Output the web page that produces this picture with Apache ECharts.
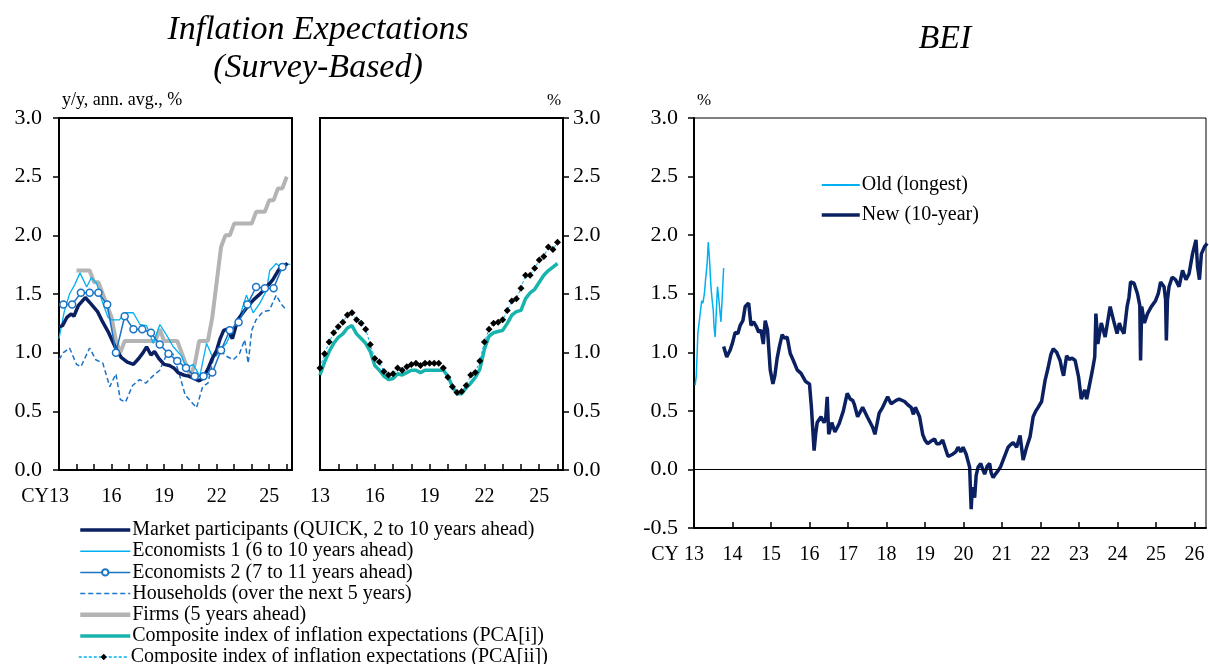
<!DOCTYPE html>
<html><head><meta charset="utf-8">
<script src="https://cdn.jsdelivr.net/npm/echarts@6/dist/echarts.min.js"></script>
<style>html,body{margin:0;padding:0;background:#fff;overflow:hidden}#c{width:1209px;height:674px}</style>
</head><body><div id="c"></div>
<script>
// ---------- DATA ----------
const yTicks = [0.0, 0.5, 1.0, 1.5, 2.0, 2.5, 3.0];
const beiTicks = [-0.5, 0.0, 0.5, 1.0, 1.5, 2.0, 2.5, 3.0];

const marketParticipants = [[2013.0,1.22],[2013.2,1.23],[2013.45,1.3],[2013.7,1.33],[2013.85,1.31],[2014.1,1.4],[2014.5,1.47],[2014.8,1.42],[2015.2,1.35],[2015.5,1.26],[2015.8,1.18],[2016.2,1.05],[2016.55,0.96],[2016.9,0.92],[2017.25,0.9],[2017.55,0.95],[2017.8,1.0],[2018.0,1.05],[2018.25,0.98],[2018.45,1.01],[2018.7,0.95],[2019.0,0.9],[2019.3,0.89],[2019.55,0.87],[2019.8,0.83],[2020.1,0.81],[2020.4,0.8],[2020.7,0.78],[2021.0,0.76],[2021.2,0.78],[2021.5,0.86],[2021.75,0.95],[2022.0,1.02],[2022.2,1.12],[2022.4,1.19],[2022.6,1.2],[2022.9,1.12],[2023.2,1.28],[2023.5,1.34],[2023.8,1.4],[2024.1,1.45],[2024.4,1.49],[2024.8,1.55],[2025.2,1.62],[2025.6,1.72],[2026.05,1.76]];

const economists1 = [[2013.0,1.12],[2013.3,1.35],[2013.6,1.5],[2013.9,1.58],[2014.2,1.68],[2014.58,1.56],[2014.85,1.64],[2015.15,1.59],[2015.5,1.42],[2015.8,1.3],[2016.0,1.28],[2016.45,1.28],[2016.76,1.34],[2017.24,1.34],[2017.62,1.24],[2018.0,1.23],[2018.38,1.08],[2018.76,1.24],[2019.14,1.15],[2019.52,1.05],[2020.0,0.97],[2020.28,0.87],[2020.66,0.9],[2021.04,0.8],[2021.42,1.08],[2021.8,0.95],[2022.18,1.02],[2022.56,1.08],[2022.94,1.21],[2023.32,1.31],[2023.7,1.49],[2024.08,1.34],[2024.46,1.42],[2024.84,1.53],[2025.03,1.7],[2025.4,1.76],[2025.7,1.72],[2026.0,1.76],[2026.2,1.75]];

const economists2 = [[2013.25,1.41],[2013.75,1.41],[2014.25,1.51],[2014.75,1.51],[2015.25,1.51],[2015.75,1.41],[2016.25,1.0],[2016.75,1.31],[2017.25,1.2],[2017.75,1.2],[2018.25,1.17],[2018.75,1.07],[2019.25,0.99],[2019.75,0.93],[2020.25,0.87],[2020.75,0.8],[2021.25,0.8],[2021.75,0.83],[2022.25,1.02],[2022.75,1.19],[2023.25,1.26],[2023.75,1.41],[2024.25,1.56],[2024.75,1.55],[2025.25,1.55],[2025.75,1.73]];

const households = [[2013.0,0.94],[2013.25,1.0],[2013.6,1.04],[2014.0,0.9],[2014.25,0.88],[2014.75,1.04],[2015.1,0.94],[2015.5,0.91],[2015.9,0.71],[2016.25,0.82],[2016.5,0.6],[2016.8,0.58],[2017.2,0.72],[2017.6,0.77],[2017.95,0.74],[2018.35,0.8],[2018.75,0.85],[2019.1,0.97],[2019.5,0.99],[2019.9,0.8],[2020.2,0.64],[2020.55,0.58],[2020.85,0.53],[2021.2,0.71],[2021.5,0.74],[2021.8,0.94],[2022.2,1.02],[2022.55,0.97],[2022.95,0.94],[2023.3,0.99],[2023.6,1.11],[2023.8,0.91],[2024.0,1.19],[2024.25,1.28],[2024.65,1.35],[2025.0,1.36],[2025.4,1.49],[2025.7,1.41],[2026.0,1.36]];

const firms = [[2014.0,1.7],[2014.25,1.7],[2014.5,1.7],[2014.75,1.7],[2015.0,1.6],[2015.25,1.6],[2015.5,1.5],[2015.75,1.4],[2016.0,1.3],[2016.25,1.1],[2016.5,1.0],[2016.75,1.1],[2017.0,1.1],[2017.25,1.1],[2017.5,1.1],[2017.75,1.1],[2018.0,1.1],[2018.25,1.1],[2018.5,1.1],[2018.75,1.2],[2019.0,1.1],[2019.25,1.1],[2019.5,1.1],[2019.75,1.1],[2020.0,1.0],[2020.25,0.9],[2020.5,0.8],[2020.75,0.9],[2021.0,1.1],[2021.25,1.1],[2021.5,1.1],[2021.75,1.3],[2022.0,1.6],[2022.25,1.9],[2022.5,2.0],[2022.75,2.0],[2023.0,2.1],[2023.25,2.1],[2023.5,2.1],[2023.75,2.1],[2024.0,2.1],[2024.25,2.2],[2024.5,2.2],[2024.75,2.2],[2025.0,2.3],[2025.25,2.3],[2025.5,2.4],[2025.75,2.4],[2026.0,2.5]];

const quarters = [2013.0,2013.25,2013.5,2013.75,2014.0,2014.25,2014.5,2014.75,2015.0,2015.25,2015.5,2015.75,2016.0,2016.25,2016.5,2016.75,2017.0,2017.25,2017.5,2017.75,2018.0,2018.25,2018.5,2018.75,2019.0,2019.25,2019.5,2019.75,2020.0,2020.25,2020.5,2020.75,2021.0,2021.25,2021.5,2021.75,2022.0,2022.25,2022.5,2022.75,2023.0,2023.25,2023.5,2023.75,2024.0,2024.25,2024.5,2024.75,2025.0,2025.25,2025.5,2025.75,2026.0];
const pca1 = [0.81,0.92,1.01,1.08,1.13,1.16,1.21,1.23,1.16,1.12,1.08,1.01,0.89,0.85,0.80,0.77,0.78,0.82,0.81,0.83,0.85,0.85,0.83,0.85,0.85,0.85,0.85,0.85,0.80,0.71,0.65,0.65,0.70,0.74,0.79,0.86,1.03,1.14,1.17,1.18,1.19,1.25,1.32,1.35,1.36,1.46,1.51,1.54,1.60,1.66,1.70,1.73,1.76];
const pca2 = [0.87,0.99,1.09,1.17,1.22,1.26,1.32,1.34,1.28,1.25,1.20,1.07,0.95,0.92,0.84,0.81,0.82,0.87,0.85,0.88,0.90,0.91,0.89,0.91,0.91,0.91,0.91,0.87,0.79,0.71,0.66,0.67,0.72,0.81,0.83,0.93,1.09,1.20,1.25,1.26,1.28,1.36,1.44,1.46,1.55,1.66,1.66,1.72,1.79,1.82,1.90,1.88,1.94];

const beiOld = [[2013.03,0.72],[2013.06,0.8],[2013.1,1.16],[2013.15,1.3],[2013.2,1.44],[2013.23,1.42],[2013.27,1.5],[2013.3,1.62],[2013.34,1.75],[2013.37,1.94],[2013.4,1.81],[2013.44,1.56],[2013.47,1.45],[2013.5,1.36],[2013.52,1.22],[2013.55,1.13],[2013.58,1.35],[2013.61,1.56],[2013.64,1.47],[2013.67,1.36],[2013.7,1.26],[2013.73,1.45],[2013.77,1.72]];

const beiNew = [[2013.77,1.05],[2013.85,0.96],[2013.94,1.02],[2014.0,1.08],[2014.07,1.17],[2014.14,1.16],[2014.2,1.23],[2014.27,1.27],[2014.33,1.39],[2014.42,1.42],[2014.48,1.23],[2014.55,1.26],[2014.62,1.22],[2014.68,1.17],[2014.74,1.19],[2014.8,1.07],[2014.85,1.27],[2014.91,1.19],[2014.98,0.85],[2015.05,0.73],[2015.1,0.8],[2015.16,0.95],[2015.22,1.05],[2015.29,1.15],[2015.35,1.12],[2015.42,1.13],[2015.5,0.99],[2015.58,0.93],[2015.68,0.85],[2015.78,0.82],[2015.85,0.78],[2015.9,0.75],[2016.0,0.73],[2016.05,0.53],[2016.12,0.16],[2016.16,0.3],[2016.2,0.4],[2016.3,0.45],[2016.38,0.4],[2016.42,0.43],[2016.46,0.62],[2016.5,0.3],[2016.58,0.4],[2016.66,0.32],[2016.77,0.39],[2016.88,0.5],[2016.98,0.65],[2017.06,0.6],[2017.12,0.59],[2017.16,0.56],[2017.25,0.45],[2017.38,0.53],[2017.5,0.45],[2017.64,0.36],[2017.7,0.3],[2017.81,0.48],[2017.9,0.53],[2018.03,0.62],[2018.12,0.56],[2018.25,0.59],[2018.33,0.6],[2018.47,0.58],[2018.56,0.55],[2018.64,0.53],[2018.7,0.47],[2018.75,0.53],[2018.86,0.45],[2018.94,0.3],[2019.0,0.25],[2019.07,0.22],[2019.15,0.24],[2019.25,0.26],[2019.3,0.22],[2019.38,0.22],[2019.46,0.25],[2019.51,0.24],[2019.55,0.16],[2019.6,0.11],[2019.64,0.11],[2019.72,0.13],[2019.8,0.15],[2019.86,0.19],[2019.93,0.15],[2019.99,0.19],[2020.07,0.13],[2020.16,0.02],[2020.2,-0.34],[2020.23,-0.15],[2020.29,-0.24],[2020.33,-0.05],[2020.38,0.02],[2020.45,0.05],[2020.5,0.0],[2020.55,-0.04],[2020.62,0.03],[2020.68,0.05],[2020.72,-0.03],[2020.77,-0.07],[2020.83,-0.04],[2020.9,-0.01],[2020.96,0.02],[2021.03,0.08],[2021.1,0.14],[2021.16,0.19],[2021.22,0.21],[2021.29,0.23],[2021.38,0.19],[2021.47,0.29],[2021.55,0.08],[2021.6,0.14],[2021.64,0.19],[2021.73,0.28],[2021.81,0.45],[2021.88,0.5],[2021.94,0.53],[2022.03,0.58],[2022.12,0.76],[2022.2,0.87],[2022.27,0.98],[2022.33,1.03],[2022.42,1.0],[2022.51,0.93],[2022.56,0.85],[2022.6,0.8],[2022.68,0.97],[2022.75,0.94],[2022.82,0.95],[2022.9,0.93],[2022.99,0.79],[2023.06,0.6],[2023.15,0.68],[2023.2,0.6],[2023.25,0.59],[2023.34,0.83],[2023.41,0.96],[2023.44,1.33],[2023.49,1.07],[2023.53,1.15],[2023.58,1.25],[2023.68,1.13],[2023.74,1.25],[2023.81,1.39],[2023.9,1.27],[2023.99,1.16],[2024.05,1.25],[2024.1,1.2],[2024.17,1.16],[2024.25,1.39],[2024.3,1.47],[2024.34,1.6],[2024.43,1.59],[2024.52,1.5],[2024.58,1.4],[2024.6,0.93],[2024.63,1.39],[2024.7,1.25],[2024.78,1.33],[2024.88,1.39],[2024.99,1.44],[2025.06,1.5],[2025.12,1.6],[2025.21,1.56],[2025.25,1.45],[2025.27,1.1],[2025.3,1.45],[2025.34,1.56],[2025.42,1.64],[2025.51,1.62],[2025.6,1.56],[2025.69,1.7],[2025.78,1.62],[2025.86,1.67],[2025.95,1.84],[2026.04,1.96],[2026.08,1.73],[2026.13,1.62],[2026.18,1.84],[2026.26,1.9],[2026.33,1.93]];

// ---------- CHART ----------
const FONT = '"Liberation Serif","Times New Roman",serif';
const chart = echarts.init(document.getElementById('c'), null, {renderer: 'canvas'});
const C_NAVY = '#0b2060', C_LB = '#00b0f0', C_MB = '#1a73c6', C_GRAY = '#b4b4b4', C_TEAL = '#17b3ad';
const XMARGIN = 17;

function xAxisFor(gi, every) {
  return {
    type: 'value', gridIndex: gi, min: 2013, max: 2026.3, interval: 1,
    axisLine: {show: true, onZero: false, lineStyle: {color: '#000', width: 2}},
    axisTick: {show: true, inside: true, length: 6, lineStyle: {color: '#000', width: 1.5}},
    splitLine: {show: false},
    axisLabel: {
      show: true, margin: XMARGIN, fontFamily: FONT, fontSize: 20, color: '#000',
      showMaxLabel: false, showMinLabel: true, hideOverlap: false,
      formatter: function (v) {
        const y = Math.round(v);
        if (Math.abs(v - y) > 1e-6) return '';
        if ((y - 2013) % every !== 0) return '';
        return String(y % 100);
      }
    }
  };
}
function yAxisFor(gi, pos, min, margin) {
  return {
    type: 'value', gridIndex: gi, position: pos, min: min, max: 3, interval: 0.5,
    axisLine: {show: true, onZero: false, lineStyle: {color: '#000', width: 2}},
    axisTick: {show: true, inside: false, length: 6, lineStyle: {color: '#000', width: 1.5}},
    splitLine: {show: false},
    axisLabel: {show: true, margin: margin, fontFamily: FONT, fontSize: 22, color: '#000',
      formatter: v => v.toFixed(1)}
  };
}
const noSym = {opacity: 0};
const legendText = {fontFamily: FONT, fontSize: 20, color: '#000', padding: [0, 0, 0, -3]};

const option = {
  animation: false,
  backgroundColor: '#fff',
  grid: [
    {left: 59, top: 118, width: 233, height: 352, show: true, borderColor: '#000', borderWidth: 2, backgroundColor: 'transparent'},
    {left: 320, top: 118, width: 243, height: 352, show: true, borderColor: '#000', borderWidth: 2, backgroundColor: 'transparent'},
    {left: 694, top: 118, width: 512, height: 410, show: true, borderColor: '#000', borderWidth: 1, backgroundColor: 'transparent'}
  ],
  xAxis: [xAxisFor(0, 3), xAxisFor(1, 3), xAxisFor(2, 1)],
  yAxis: [yAxisFor(0, 'left', 0, 17), yAxisFor(1, 'right', 0, 10), yAxisFor(2, 'left', -0.5, 16)],
  graphic: [
    {type: 'text', x: 318, y: 13, style: {text: 'Inflation Expectations', font: 'italic 34px ' + FONT, fill: '#000', textAlign: 'center', textVerticalAlign: 'top'}},
    {type: 'text', x: 318, y: 51, style: {text: '(Survey-Based)', font: 'italic 34px ' + FONT, fill: '#000', textAlign: 'center', textVerticalAlign: 'top'}},
    {type: 'text', x: 945, y: 22, style: {text: 'BEI', font: 'italic 34px ' + FONT, fill: '#000', textAlign: 'center', textVerticalAlign: 'top'}},
    {type: 'text', x: 62, y: 91, style: {text: 'y/y, ann. avg., %', font: '18px ' + FONT, fill: '#000', textVerticalAlign: 'top'}},
    {type: 'text', x: 547, y: 92, style: {text: '%', font: '17px ' + FONT, fill: '#000', textVerticalAlign: 'top'}},
    {type: 'text', x: 697, y: 92, style: {text: '%', font: '17px ' + FONT, fill: '#000', textVerticalAlign: 'top'}},
    {type: 'text', x: 49, y: 470 + XMARGIN, style: {text: 'CY', font: '20px ' + FONT, fill: '#000', textAlign: 'right', textVerticalAlign: 'top'}},
    {type: 'text', x: 679, y: 528 + XMARGIN, style: {text: 'CY', font: '20px ' + FONT, fill: '#000', textAlign: 'right', textVerticalAlign: 'top'}}
  ],
  legend: [
    {
      orient: 'vertical', left: 78, top: 520, padding: 0, itemWidth: 50, itemHeight: 8, itemGap: 1.2,
      textStyle: legendText,
      data: [
        {name: 'Market participants (QUICK, 2 to 10 years ahead)', itemStyle: noSym, lineStyle: {width: 3.5}},
        {name: 'Economists 1 (6 to 10 years ahead)', itemStyle: noSym, lineStyle: {width: 1.5}},
        {name: 'Economists 2 (7 to 11 years ahead)', lineStyle: {width: 1.5}},
        {name: 'Households (over the next 5 years)', itemStyle: noSym, lineStyle: {width: 1.5}},
        {name: 'Firms (5 years ahead)', itemStyle: noSym, lineStyle: {width: 4.5}},
        {name: 'Composite index of inflation expectations (PCA[i])', itemStyle: noSym, lineStyle: {width: 3.5}}
      ]
    },
    {
      orient: 'vertical', left: 78, top: 647, padding: 0, itemWidth: 50, itemHeight: 8, itemGap: 1.2,
      textStyle: legendText,
      data: [
        {name: 'Composite index of inflation expectations (PCA[ii])', lineStyle: {width: 1.5}}
      ]
    },
    {
      orient: 'vertical', left: 820, top: 175, padding: 0, itemWidth: 38, itemHeight: 8, itemGap: 10,
      textStyle: legendText,
      data: [
        {name: 'Old (longest)', itemStyle: noSym, lineStyle: {width: 2}},
        {name: 'New (10-year)', itemStyle: noSym, lineStyle: {width: 3.5}}
      ]
    }
  ],
  series: [
    {name: 'Firms (5 years ahead)', type: 'line', xAxisIndex: 0, yAxisIndex: 0, data: firms, symbol: 'none',
      lineStyle: {color: C_GRAY, width: 4}, itemStyle: {color: C_GRAY}},
    {name: 'Households (over the next 5 years)', type: 'line', xAxisIndex: 0, yAxisIndex: 0, data: households, symbol: 'none',
      lineStyle: {color: C_MB, width: 1.5, type: [5, 3]}, itemStyle: {color: C_MB}},
    {name: 'Economists 1 (6 to 10 years ahead)', type: 'line', xAxisIndex: 0, yAxisIndex: 0, data: economists1, symbol: 'none',
      lineStyle: {color: C_LB, width: 1.3}, itemStyle: {color: C_LB}},
    {name: 'Market participants (QUICK, 2 to 10 years ahead)', type: 'line', xAxisIndex: 0, yAxisIndex: 0, data: marketParticipants, symbol: 'none',
      lineStyle: {color: C_NAVY, width: 3.5}, itemStyle: {color: C_NAVY}},
    {name: 'Economists 2 (7 to 11 years ahead)', type: 'line', xAxisIndex: 0, yAxisIndex: 0, data: economists2, symbol: 'circle', symbolSize: 7,
      lineStyle: {color: C_MB, width: 1.5}, itemStyle: {color: '#fff', borderColor: C_MB, borderWidth: 1.5}},
    {name: 'Composite index of inflation expectations (PCA[i])', type: 'line', xAxisIndex: 1, yAxisIndex: 1,
      data: quarters.map((q, i) => [q, pca1[i]]), symbol: 'none', lineStyle: {color: C_TEAL, width: 3.5}, itemStyle: {color: C_TEAL}},
    {name: 'Composite index of inflation expectations (PCA[ii])', type: 'line', xAxisIndex: 1, yAxisIndex: 1,
      data: quarters.map((q, i) => [q, pca2[i]]), symbol: 'diamond', symbolSize: 7,
      lineStyle: {color: C_LB, width: 1, type: [3, 2]}, itemStyle: {color: '#000'}},
    {name: 'Old (longest)', type: 'line', xAxisIndex: 2, yAxisIndex: 2, data: beiOld, symbol: 'none',
      lineStyle: {color: C_LB, width: 1.5}, itemStyle: {color: C_LB}},
    {name: 'New (10-year)', type: 'line', xAxisIndex: 2, yAxisIndex: 2, data: beiNew, symbol: 'none',
      lineStyle: {color: C_NAVY, width: 3.5}, itemStyle: {color: C_NAVY},
      markLine: {silent: true, symbol: 'none', label: {show: false}, lineStyle: {color: '#000', width: 1, type: 'solid'}, data: [{yAxis: 0}]}}
  ]
};
chart.setOption(option);
</script></body></html>
